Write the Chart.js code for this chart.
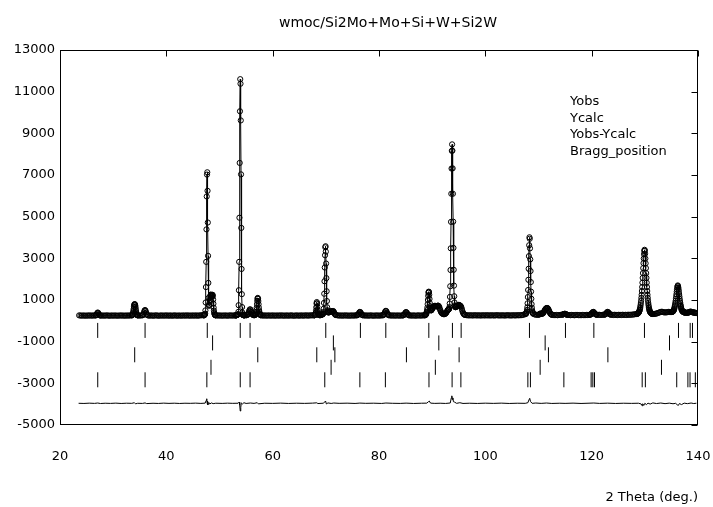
<!DOCTYPE html>
<html>
<head>
<meta charset="utf-8">
<script src="https://cdn.jsdelivr.net/npm/chart.js@4.4.0/dist/chart.umd.min.js"></script>
<style>
  html, body { margin: 0; padding: 0; background: #fff; }
</style>
</head>
<body>
<canvas id="rietveld" width="713" height="507"></canvas>
<script>
// axis ticks
const xTickValues = [20, 40, 60, 80, 100, 120, 140];
const yTickValues = [-5000, -3000, -1000, 1000, 3000, 5000, 7000, 9000, 11000, 13000];

const obsSegments = [
  [23.6, 0.25, [262,255,248,258,251,246,257,250,262,249,254,258]],
  [26.6, 0.1, [256,262,275,310,370,400,372,318,280,262,255]],
  [27.85, 0.25, [250,258,247,255,262,251,244,257,253,248,259,250,246,256,252,260,249,254,247,258,251,256,262]],
  [33.5, 0.05, [262,268,280,300,335,390,470,570,670,750,790,800,785,740,660,560,460,380,325,295,278,268,262]],
  [34.75, 0.25, [258,252,260,265]],
  [35.6, 0.1, [275,320,410,490,520,480,400,320,275]],
  [36.6, 0.25, [255,248,260,252,245,257,263,250,246,254,259,249,256,251,262,247,253,258,244,255,261,250,248,257,252,246,259,254,249,263,251,256,247,258,253,250,262,245,255,260,268,275]],
  [47.0, 0.05, [262,265,270,278,290,310,345,500,880,1620,2830,4390,5970,7020,7130,6240,4720,3120,1820,1100,
                760,720,780,880,1000,1120,1200,1250,1260,1230,1170,1150,1190,1240,1250,1180,1020,820,630,490,
                400,340,305,285,272,265,260]],
  [49.55, 0.25, [258,252,261,247,255,250,259,253,246,257,262,251,256,258]],
  [53.0, 0.05, [258,260,263,266,270,275,282,290,298,305,315,430,750,1470,2830,4950,7580,10060,11600,11380,
                9620,7030,4460,2490,1280,660,400,310,285,275,270,268,266,265,266,268,270]],
  [55.0, 0.1, [268,272,280,300,340,410,490,545,550,500,420,350,305,285,275,270]],
  [56.6, 0.05, [272,278,288,305,330,370,430,520,640,800,960,1070,1100,1060,950,800,640,510,420,360,320,295,280,270,264]],
  [58.05, 0.25, [258,250,262,247,255,259,249,253,261,246,256,252,258,248,263,251,255,247,260,253,249,257,262,250,246,256,259,252,248,261,254,250,257,263,251,255,260,265,262]],
  [67.8, 0.05, [262,266,272,282,300,330,390,490,650,830,900,840,680,520,420,360,320,298,285,277,272]],
  [68.9, 0.1, [270,272,278,290,305]],
  [69.35, 0.05, [310,315,325,355,420,580,860,1300,1900,2560,3150,3530,3580,3320,2750,2050,1420,950,650,500,440,415,405,405]],
  [70.6, 0.1, [405,420,450,470,455,430,440,465,470,430,370,320,290,275]],
  [72.15, 0.25, [265,258,252,260,248,255,262,250,257,246,254,259,251,256,262]],
  [75.8, 0.1, [265,272,285,310,350,400,430,415,370,320,290,272,265]],
  [77.25, 0.25, [258,252,260,247,255,262,250,246,257,253,259,249,256,262]],
  [80.7, 0.1, [265,275,295,335,400,460,480,455,390,330,295,275,265]],
  [82.15, 0.25, [258,251,262,248,256,253,260,247,255,260]],
  [84.5, 0.1, [262,270,285,315,360,405,420,400,355,310,285,270,262]],
  [85.95, 0.25, [258,250,261,254,247,258,263,251,256,260,262]],
  [88.6, 0.05, [265,270,276,285,298,318,345,385,440,520,640,800,1000,1200,1350,1400,1380,1250,1050,850,700,600,540,510,500,510,530,560,590]],
  [90.1, 0.1, [620,660,690,710,720,715,700,690,700,720,730,720,680,610,530,460,410,375,350,335,325,320,322,330,345,370,410,460,500]],
  [92.95, 0.05, [520,530,540,550,560,580,660,830,1150,1660,2440,3480,4750,6100,7310,8160,8470,8170,7320,6100,
                 4760,3500,2450,1690,1180,880,740,680,660,655,660,670,690,705]],
  [94.7, 0.1, [720,740,755,765,760,740,720,700,640,550,460,390,340,310,292,280]],
  [96.45, 0.25, [272,265,258,268,261,255,270,263,257,266,260,254,268,262,257,271,259,264,256,268,261,255,266,270,258,263,257,267,260,254,265,271,259,262,256,268,263,258,270,264,272,268,280,295,315]],
  [107.6, 0.05, [330,345,370,400,450,525,650,840,1140,1480,1970,2500,3105,3630,4010,3940,3480,2950,2390,1860,1400,1060,800,630,505,440,395,365,340]],
  [109.25, 0.25, [310,295,288,292]],
  [110.1, 0.1, [300,320,345,350,340,335,340,355,380,420,470,520,560,590,610,620,610,580,530,470,410,360,325,305,292,285]],
  [112.85, 0.25, [280,272,282,268,278,285,290]],
  [114.5, 0.1, [295,305,318,330,340,338,325,310,298,290,285]],
  [115.75, 0.25, [278,270,283,275,268,280,286,273,277,269,282,276,271,284,279,286]],
  [119.6, 0.1, [290,295,305,320,345,380,415,430,415,380,345,320,305,295,290]],
  [121.25, 0.25, [285,290,282,288,292]],
  [122.4, 0.1, [295,305,320,345,380,415,430,415,380,345,320,305,295]],
  [123.85, 0.25, [288,280,292,284,277,290,286,279,293,283,288,281,295,287,292,298,305,315,322]],
  [128.5, 0.05, [330,335,340,350,360,375,390,405,425,450,485,530,590,660,750,850,965,1100,1250,1430,
                 1620,1830,2060,2290,2530,2770,2990,3200,3350,3410,3370,3220,2990,2760,2530,2290,2060,1830,1620,1430,
                 1250,1100,965,850,750,660,590,530,485,450,425,405,390,375,360,350,345,340,335,332,330]],
  [131.7, 0.2, [330,335,345,360,380,400,420,435,430,415,405,405,410,420,430,425,420]],
  [135.0, 0.05, [425,428,430,435,440,447,455,470,490,515,550,600,660,720,790,870,960,1060,1170,1280,
                 1400,1500,1590,1660,1700,1660,1590,1500,1400,1280,1170,1060,960,870,790,720,660,600,550,515,
                 490,470,455,445,435,428,420,415,410,405,400,398,395]],
  [137.8, 0.1, [390,385,385,390,400,410,425,435,440,435,425,415,410,405,400,395,390,385,380,375]]
];

// Yobs-Ycalc, shifted below the pattern: [2theta, counts]
const diffCurve = [
  [23.5,-3958],[24.5,-3965],[25.5,-3952],[26.5,-3962],[27.1,-3945],[27.6,-3968],[28.5,-3955],[29.5,-3963],
  [30.5,-3950],[31.5,-3966],[32.5,-3954],[33.5,-3960],[34.0,-3930],[34.2,-3985],[34.6,-3958],[35.5,-3964],
  [36.0,-3940],[36.3,-3972],[37.5,-3956],[38.5,-3965],[39.5,-3950],[40.5,-3962],[41.5,-3953],[42.5,-3966],
  [43.5,-3955],[44.5,-3960],[45.5,-3950],[46.5,-3963],[47.3,-3950],[47.5,-3820],[47.6,-3740],[47.65,-3900],
  [47.7,-4030],[47.8,-3850],[47.9,-4010],[48.0,-3920],[48.2,-3985],[48.5,-3940],[48.8,-3975],[49.3,-3955],
  [50.5,-3963],[51.5,-3952],[52.5,-3960],[53.5,-3955],[53.7,-3900],[53.8,-4050],[53.9,-4330],[54.0,-4150],
  [54.1,-3940],[54.3,-3990],[54.6,-3930],[55.0,-3965],[55.8,-3945],[56.5,-3962],[57.1,-3930],[57.3,-3985],
  [58.5,-3955],[60,-3962],[61.5,-3950],[63,-3965],[64.5,-3954],[66,-3962],[67.5,-3950],[68.3,-3935],
  [68.5,-3970],[69.5,-3955],[69.8,-3900],[69.95,-3850],[70.1,-3990],[70.4,-3940],[71,-3965],[71.5,-3945],
  [72.5,-3960],[74,-3952],[75.5,-3965],[76.4,-3948],[77.5,-3960],[79,-3953],[80.5,-3965],[81.3,-3945],
  [82.5,-3958],[84,-3964],[85.1,-3950],[86.5,-3966],[88,-3955],[89.0,-3950],[89.3,-3880],[89.45,-3850],
  [89.7,-3950],[90.5,-3962],[91.5,-3955],[92.5,-3965],[93.4,-3945],[93.6,-3700],[93.7,-3600],[93.8,-3780],
  [93.9,-3700],[94.0,-3880],[94.2,-3900],[94.6,-3960],[95.2,-3930],[95.8,-3965],[97,-3955],[98.5,-3965],
  [100,-3952],[101.5,-3962],[103,-3950],[104.5,-3966],[106,-3955],[107.5,-3960],[108.0,-3930],[108.2,-3800],
  [108.35,-3720],[108.5,-3870],[108.8,-3960],[109.5,-3945],[110.5,-3962],[111.5,-3945],[112.5,-3965],[114,-3955],
  [115,-3962],[116.5,-3950],[118,-3966],[119.5,-3953],[120.4,-3945],[121.5,-3964],[123,-3952],[124.5,-3966],
  [126,-3955],[127.5,-3962],[128.8,-3955],[129.3,-3990],[129.5,-4080],[129.6,-3980],[129.8,-4060],[130.0,-3960],
  [130.3,-4020],[130.6,-3950],[131,-3995],[131.5,-3940],[132.2,-3970],[133,-3945],[133.8,-3975],[134.6,-3950],
  [135.3,-3980],[135.8,-3960],[136.1,-4030],[136.3,-4060],[136.5,-3970],[136.9,-4020],[137.4,-3950],[138,-3975],
  [138.7,-3945],[139.2,-3970],[139.7,-3955]
];

// Bragg reflections per phase (2theta)
const braggSi2Mo = [27.09, 36.0, 47.7, 53.9, 55.75, 69.99, 76.5, 81.28, 89.37, 93.81, 95.45, 108.3, 115.07, 120.41, 129.93, 136.33, 138.53, 138.96];
const braggMo = [48.7, 71.42, 91.25, 111.25, 134.64];
const braggSi = [34.05, 57.2, 68.3, 71.7, 85.16, 95.07, 111.87, 123.05];
const braggW = [48.4, 70.99, 90.6, 110.31, 133.13];
const braggSi2W = [27.1, 36.0, 47.62, 53.9, 55.75, 69.8, 76.4, 81.2, 89.4, 93.75, 95.4, 108.0, 108.48, 114.77, 119.9, 120.22, 120.53, 129.5, 130.1, 136.0, 138.1, 138.5, 139.5];
// count level each phase's tick row is plotted at
const braggLevels = [-460, -1060, -1630, -2230, -2830];

const legendNames = ['Yobs', 'Ycalc', 'Yobs-Ycalc', 'Bragg_position'];
const titleText = 'wmoc/Si2Mo+Mo+Si+W+Si2W';

const FONT = "'DejaVu Sans', sans-serif";

function expand(segments) {
  const pts = [];
  segments.forEach(([start, step, counts]) => {
    counts.forEach((c, i) => pts.push({ x: +(start + i * step).toFixed(3), y: c }));
  });
  return pts.sort((a, b) => a.x - b.x);
}

const obsPoints = expand(obsSegments);
const diffPoints = diffCurve.map(([t, v]) => ({ x: t, y: v }));

function braggSet(positions, level) {
  return {
    data: positions.map(t => ({ x: t, y: level })),
    showLine: false,
    pointStyle: 'line',
    pointRotation: 90,
    pointRadius: 7.5,
    pointBorderWidth: 1,
    pointBorderColor: '#000',
    pointHoverRadius: 7.5
  };
}

const framePlugin = {
  id: 'frame',
  afterDraw(chart) {
    const { ctx, chartArea: a, scales: { x, y } } = chart;
    ctx.save();
    ctx.strokeStyle = '#000';
    ctx.lineWidth = 1;
    const l = Math.round(a.left) + 0.5, r = Math.round(a.right) - 0.5;
    const t = Math.round(a.top) + 0.5, b = Math.round(a.bottom) - 0.5;
    ctx.strokeRect(l, t, r - l, b - t);
    ctx.beginPath();
    xTickValues.forEach(v => {
      const px = Math.round(x.getPixelForValue(v)) + 0.5;
      ctx.moveTo(px, t); ctx.lineTo(px, t + 6);
    });
    yTickValues.forEach(v => {
      const py = Math.round(y.getPixelForValue(v)) + 0.5;
      ctx.moveTo(r, py); ctx.lineTo(r - 6, py);
    });
    ctx.stroke();

    ctx.fillStyle = '#000';
    ctx.font = '14px ' + FONT;
    ctx.textAlign = 'center';
    ctx.textBaseline = 'alphabetic';
    ctx.fillText(titleText, 388, 27);

    ctx.font = '13px ' + FONT;
    ctx.textAlign = 'left';
    legendNames.forEach((name, i) => ctx.fillText(name, 570, 105 + i * 16.7));
    ctx.restore();
  }
};

new Chart(document.getElementById('rietveld'), {
  type: 'scatter',
  data: {
    datasets: [
      {
        data: obsPoints,
        showLine: false,
        pointStyle: 'circle',
        pointRadius: 2.6,
        pointBorderWidth: 1,
        pointBorderColor: '#000',
        pointBackgroundColor: 'rgba(0,0,0,0)'
      },
      {
        data: obsPoints,
        showLine: true,
        borderColor: '#000',
        borderWidth: 1,
        pointRadius: 0,
        tension: 0
      },
      {
        data: diffPoints,
        showLine: true,
        borderColor: '#000',
        borderWidth: 1,
        pointRadius: 0,
        tension: 0
      },
      braggSet(braggSi2Mo, braggLevels[0]),
      braggSet(braggMo, braggLevels[1]),
      braggSet(braggSi, braggLevels[2]),
      braggSet(braggW, braggLevels[3]),
      braggSet(braggSi2W, braggLevels[4])
    ]
  },
  options: {
    responsive: false,
    animation: false,
    events: [],
    layout: { padding: { top: 50, right: 15, left: 0, bottom: 0 } },
    plugins: { legend: { display: false }, tooltip: { enabled: false }, title: { display: false } },
    scales: {
      x: {
        type: 'linear',
        min: 20, max: 140,
        afterBuildTicks: s => { s.ticks = xTickValues.map(v => ({ value: v })); },
        afterFit: s => { s.height = 82; s.paddingLeft = 0; s.paddingRight = 0; },
        grid: { display: false, drawTicks: false },
        border: { display: false },
        ticks: {
          color: '#000', padding: 24, maxRotation: 0, autoSkip: false,
          font: { family: FONT, size: 13 },
          callback: v => String(v)
        },
        title: {
          display: true, text: '2 Theta (deg.)', align: 'end', color: '#000',
          font: { family: FONT, size: 13 }, padding: { top: 0, bottom: 2 }
        }
      },
      y: {
        type: 'linear',
        min: -5000, max: 13000,
        afterBuildTicks: s => { s.ticks = yTickValues.map(v => ({ value: v })); },
        afterFit: s => { s.width = 60; s.paddingTop = 0; s.paddingBottom = 0; },
        grid: { display: false, drawTicks: false },
        border: { display: false },
        ticks: {
          color: '#000', padding: 5, autoSkip: false,
          font: { family: FONT, size: 13 },
          callback: v => String(v)
        }
      }
    }
  },
  plugins: [framePlugin]
});
</script>
</body>
</html>
